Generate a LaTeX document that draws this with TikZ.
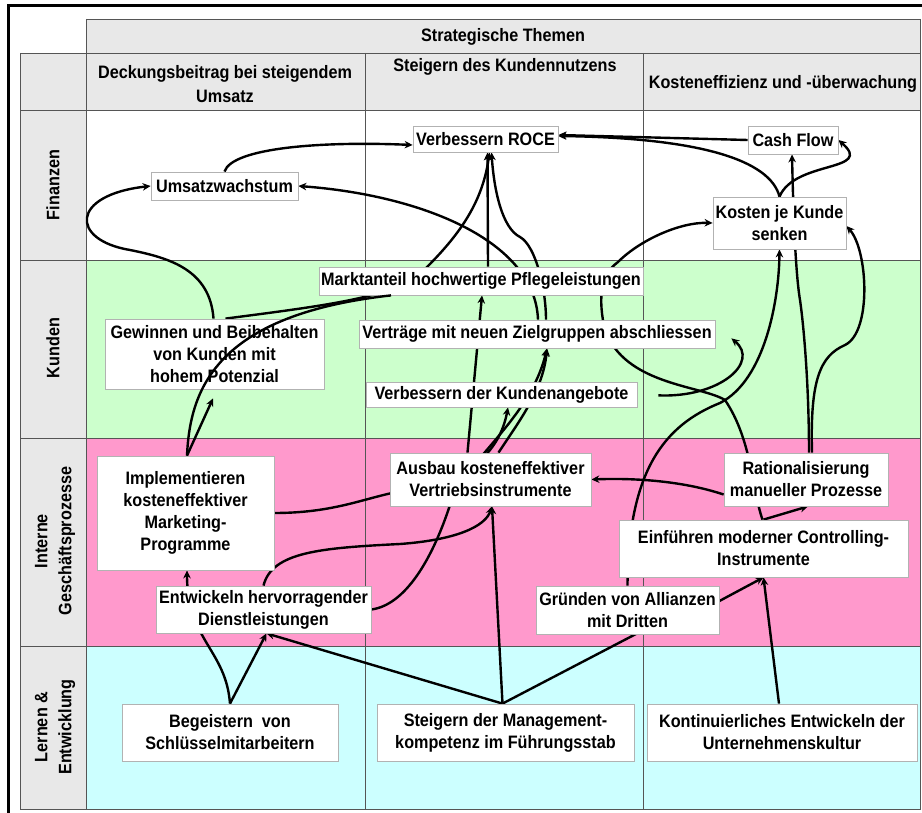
\documentclass[tikz,border=0pt]{standalone}
\usepackage{fontspec}
\setmainfont{Liberation Sans}[FakeStretch=0.9]
\usetikzlibrary{arrows.meta}

\pgfdeclarelayer{back}
\pgfdeclarelayer{links}
\pgfsetlayers{back,links,main}

\definecolor{headgray}{HTML}{E8E8E8}
\definecolor{kundengreen}{HTML}{CCFFCC}
\definecolor{prozesspink}{HTML}{FF99CC}
\definecolor{lerncyan}{HTML}{CCFFFF}
\definecolor{gridgray}{HTML}{555555}
\newcommand\lab{\fontsize{18}{22}\selectfont\bfseries}
\newcommand\headlab{\fontsize{18}{24}\selectfont\bfseries}

\begin{document}
\begin{tikzpicture} [
    x=1pt, y=-1pt,
    block/.style = { rectangle, draw=gray!60, fill=white, line width=0.8pt,
                     align=center, inner sep=0pt, font=\lab },
    head/.style  = { align=center, font=\headlab },
    grid/.style  = { draw=gridgray, line width=0.8pt },
    line/.style  = { draw, line width=2.4pt, -{Stealth[length=8pt,width=7.5pt]} },
    plain/.style = { draw, line width=2.4pt },
  ]
  \useasboundingbox (0,0) rectangle (922,813);

  % table with the four perspectives
  \begin{pgfonlayer}{back}
    \fill[headgray] (86,19) rectangle (920.5,110);
    \fill[headgray] (20,53) rectangle (86,809);
    \fill[kundengreen] (86,260) rectangle (920.5,438);
    \fill[prozesspink] (86,438) rectangle (920.5,646);
    \fill[lerncyan] (86,646) rectangle (920.5,809);
    \path[grid] (86,19) -- (920.5,19);
    \foreach \y in {53,110,260,438,646,809}
      \path[grid] (20,\y) -- (920.5,\y);
    \path[grid] (86,19) -- (86,809);
    \path[grid] (920.5,19) -- (920.5,809);
    \foreach \x in {20,365,643}
      \path[grid] (\x,53) -- (\x,809);
    \draw[line width=3pt] (8.5,813) -- (8.5,6) -- (922,6);
  \end{pgfonlayer}

  % headers
  \node[head] (themen) at (503,37) {Strategische Themen};
  \node[head] (thema1) at (225,84.5) {Deckungsbeitrag bei steigendem\\Umsatz};
  \node[head] (thema2) at (505,67) {Steigern des Kundennutzens};
  \node[head] (thema3) at (783,84) {Kosteneffizienz und -überwachung};
  \node[head, rotate=90] (finanzen) at (53,185) {Finanzen};
  \node[head, rotate=90] (kunden) at (53,348) {Kunden};
  \node[head, rotate=90] (prozesse) at (55,541) {Interne\\Geschäftsprozesse};
  \node[head, rotate=90] (lernen) at (55,727) {Lernen \&\\Entwicklung};

  % Define nodes
  \node[block, minimum width=145pt, minimum height=26pt] (roce) at (485.5,139) {Verbessern ROCE};
  \node[block, minimum width=90pt, minimum height=28pt] (cashflow) at (793,140) {Cash Flow};
  \node[block, minimum width=147pt, minimum height=28pt] (umsatz) at (224.5,186) {Umsatzwachstum};
  \node[block, minimum width=133pt, minimum height=52pt] (kosten) at (779.5,223) {Kosten je Kunde\\senken};
  \node[block, minimum width=324pt, minimum height=28pt] (markt) at (481,281) {Marktanteil hochwertige Pflegeleistungen};
  \node[block, minimum width=219pt, minimum height=70pt] (gewinnen) at (214.5,354) {Gewinnen und Beibehalten\\von Kunden mit\\hohem Potenzial};
  \node[block, minimum width=356pt, minimum height=28pt] (vertraege) at (537,334) {Verträge mit neuen Zielgruppen abschliessen};
  \node[block, minimum width=271pt, minimum height=25pt] (angebote) at (501.5,394.5) {Verbessern der Kundenangebote};
  \node[block, minimum width=177pt, minimum height=114pt] (implem) at (185.5,513) {Implementieren\\kosteneffektiver\\Marketing-\\Programme};
  \node[block, minimum width=201pt, minimum height=53pt] (ausbau) at (490.5,479.5) {Ausbau kosteneffektiver\\Vertriebsinstrumente};
  \node[block, minimum width=164pt, minimum height=53pt] (rational) at (806,479.5) {Rationalisierung\\manueller Prozesse};
  \node[block, minimum width=289pt, minimum height=57pt] (einfuehren) at (763.5,548.5) {Einführen moderner Controlling-\\Instrumente};
  \node[block, minimum width=215pt, minimum height=47pt] (entwickeln) at (263.5,609.5) {Entwickeln hervorragender\\Dienstleistungen};
  \node[block, minimum width=183pt, minimum height=48pt] (gruenden) at (627.5,610) {Gründen von Allianzen\\mit Dritten};
  \node[block, minimum width=216pt, minimum height=57pt] (begeistern) at (230,732.5) {Begeistern~ von\\Schlüsselmitarbeitern};
  \node[block, minimum width=257pt, minimum height=57pt] (mgmt) at (505.5,732.5) {Steigern der Management-\\kompetenz im Führungsstab};
  \node[block, minimum width=270pt, minimum height=57pt] (kontin) at (782,732.5) {Kontinuierliches Entwickeln der\\Unternehmenskultur};

  % connect the nodes
  \begin{pgfonlayer}{links}
    \path[line] (umsatz.north) .. controls (232,148) and (320,141) .. ([yshift=-6pt]roce.west);
    \path[line] ([xshift=1pt]vertraege.north) .. controls (535,240) and (420,195) .. (umsatz.east);
    \path[line] ([xshift=9pt]vertraege.north) .. controls (546,290) and (536,246) .. (520,237) .. controls (502,228) and (494,190) .. ([xshift=6pt]roce.south);
    \path[line] ([xshift=7pt]markt.north) -- ([xshift=2pt]roce.south);
    \path[line] ([xshift=11pt]gewinnen.north) .. controls (330,305) and (405,296) .. (427,267) .. controls (462,232) and (483,200) .. ([xshift=4pt]roce.south);
    \path[line] ([xshift=-1pt]gewinnen.north) .. controls (210,270) and (170,258) .. (130,250) .. controls (70,240) and (70,195) .. (umsatz.west);
    \path[line] (cashflow.west) -- ([yshift=4pt]roce.east);
    \path[line] (kosten.north) .. controls (770,160) and (700,138) .. ([yshift=3pt]roce.east);
    \path[line] (kosten.north) .. controls (795,160) and (875,172) .. (cashflow.east);
    \path[line] ([xshift=3pt]rational.north) .. controls (809,380) and (803,320) .. (800,300) .. controls (795,270) and (793,200) .. ([xshift=-1pt]cashflow.south);
    \path[line] ([xshift=6pt]rational.north) .. controls (810,380) and (820,356) .. (845,345) .. controls (872,332) and (868,250) .. ([yshift=-3pt]kosten.east);
    \path[line] (gruenden.north) .. controls (628,470) and (665,425) .. (720,403) .. controls (765,380) and (779,300) .. (kosten.south);
    \path[line] (einfuehren.north) -- ([xshift=2pt]rational.south);
    \path[line] ([xshift=-1pt]einfuehren.north) .. controls (752,490) and (752,440) .. (725,400) .. controls (700,385) and (625,385) .. (605,330) .. controls (598,300) and (600,275) .. (618,262) .. controls (640,240) and (680,222) .. (kosten.west);
    \path[line] ([yshift=-15pt]rational.west) .. controls (680,480) and (630,478) .. (ausbau.east);
    \path[line] ([yshift=9pt]gruenden.east) -- (einfuehren.south);
    \path[line] ([xshift=-3pt]kontin.north) -- (einfuehren.south);
    \path[line] ([xshift=-3pt]mgmt.north) -- ([xshift=23pt,yshift=8pt]gruenden.south);
    \path[line] ([xshift=-3pt]mgmt.north) -- ([xshift=3pt]entwickeln.south);
    \path[line] ([xshift=-3pt]mgmt.north) -- ([xshift=1.5pt]ausbau.south);
    \path[line] (begeistern.north) -- ([xshift=3pt]entwickeln.south);
    \path[line] (begeistern.north) .. controls (226,650) and (187,640) .. ([xshift=1.5pt]implem.south);
    \path[line] (entwickeln.north) .. controls (272,552) and (320,548) .. (400,544) .. controls (455,540) and (485,527) .. ([xshift=1.5pt]ausbau.south);
    \path[line] (entwickeln.east) .. controls (405,605) and (432,560) .. (450,505) .. controls (465,460) and (530,420) .. ([xshift=10pt]vertraege.south);
    \path[line] (implem.east) .. controls (330,513) and (360,500) .. (392,493) .. controls (470,485) and (500,450) .. ([xshift=6.5pt]angebote.south);
    \path[line] ([xshift=8pt]ausbau.north) .. controls (520,420) and (543,390) .. ([xshift=10pt]vertraege.south);
    \path[line] ([xshift=-23pt]ausbau.north) -- ([xshift=1pt]markt.south);
    \path[line, shorten <=21pt] (angebote.east) .. controls (720,398) and (760,362) .. ([xshift=16pt,yshift=10pt]vertraege.south east);
    \path[line] ([xshift=1.5pt]implem.north) -- ([xshift=-1.5pt,yshift=-9pt]gewinnen.south);
  \end{pgfonlayer}
  \path[plain] ([xshift=1.5pt]implem.north) .. controls (190,390) and (215,315) .. ([xshift=-90pt]markt.south);
\end{tikzpicture}
\end{document}
